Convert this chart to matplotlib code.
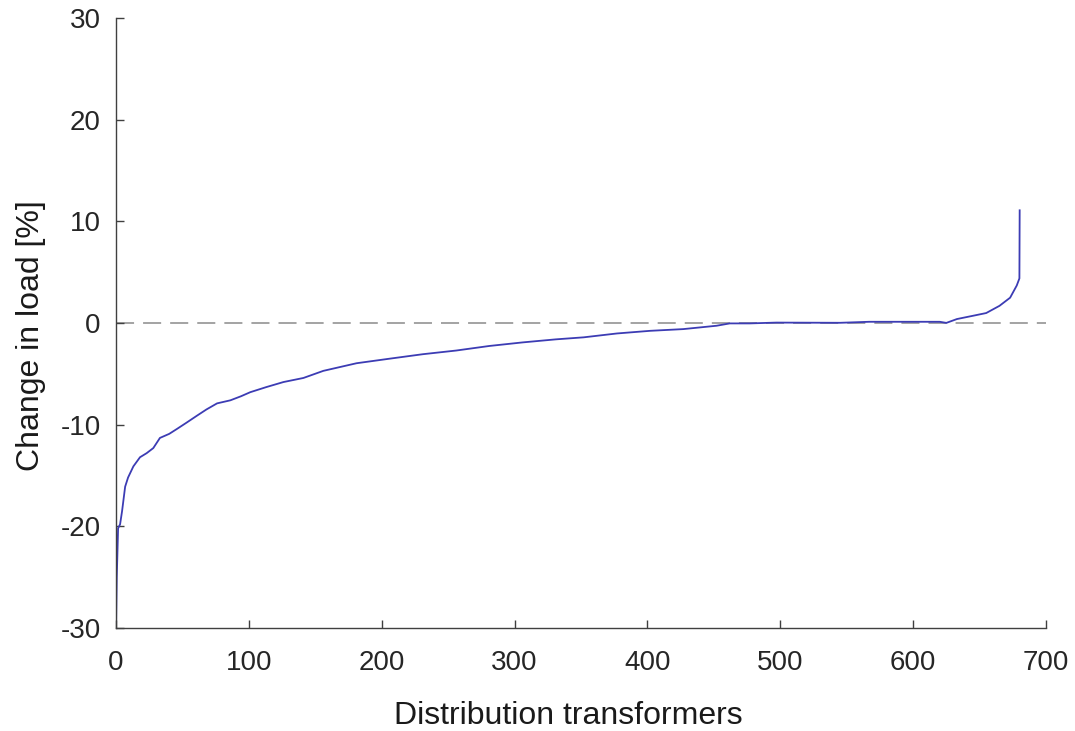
import matplotlib
matplotlib.use("Agg")
import matplotlib.pyplot as plt

# Data (sorted change in load per transformer)
transformer = [0, 0.5, 1.5, 3, 4.5, 6.8, 9, 13, 18, 23, 28, 33, 40, 46, 53, 61, 68, 76, 86, 94,
               101, 113, 126, 141, 156, 181, 206, 231, 256, 281, 306, 331, 352, 377, 402,
               427, 452, 462, 477, 497, 545, 567, 600, 620, 625, 633, 645, 655, 665, 673,
               678, 680, 680.2]
change = [-29.6, -25, -20.2, -19.8, -18.5, -16.1, -15.2, -14.1, -13.2, -12.8, -12.3, -11.3,
          -10.9, -10.4, -9.8, -9.1, -8.5, -7.9, -7.6, -7.2, -6.8, -6.3, -5.8, -5.4, -4.7,
          -3.95, -3.5, -3.06, -2.7, -2.25, -1.9, -1.6, -1.4, -1.02, -0.76, -0.59, -0.26,
          -0.03, -0.03, 0.05, 0.03, 0.13, 0.13, 0.13, 0.02, 0.4, 0.72, 0.99, 1.7, 2.5,
          3.7, 4.4, 11.1]
x_ticks = [0, 100, 200, 300, 400, 500, 600, 700]
y_ticks = [-30, -20, -10, 0, 10, 20, 30]

plt.rcParams['font.family'] = ['Liberation Sans', 'DejaVu Sans']
plt.rcParams['lines.scale_dashes'] = False
plt.rcParams['axes.unicode_minus'] = False

fig = plt.figure(figsize=(10.75, 7.31), dpi=100)
ax = fig.add_axes([0.108, 0.141, 0.865, 0.834])

ax.plot([0, 700], [0, 0], color='#8a8a8a', lw=1.1, dashes=(13, 6.5), zorder=1)
ax.plot(transformer, change, color='#3c3cb4', lw=1.3, zorder=2)

ax.set_xlim(0, 700)
ax.set_ylim(-30, 30)
ax.set_xticks(x_ticks)
ax.set_yticks(y_ticks)

for s in ['top', 'right']:
    ax.spines[s].set_visible(False)
for s in ['left', 'bottom']:
    ax.spines[s].set_color('#404040')
    ax.spines[s].set_linewidth(1.0)

ax.tick_params(axis='both', direction='in', length=5.5, width=1.0, color='#404040',
               labelsize=20, labelcolor='#262626')
ax.tick_params(axis='x', pad=16)
ax.tick_params(axis='y', pad=11)

ax.set_xlabel('Distribution transformers', fontsize=23, color='#1a1a1a', labelpad=18)
ax.set_ylabel('Change in load [%]', fontsize=23, color='#1a1a1a', labelpad=10.5)
ax.xaxis.label.set_x(0.486)
ax.yaxis.label.set_y(0.48)

fig.savefig('out.png', dpi=100, facecolor='white')
